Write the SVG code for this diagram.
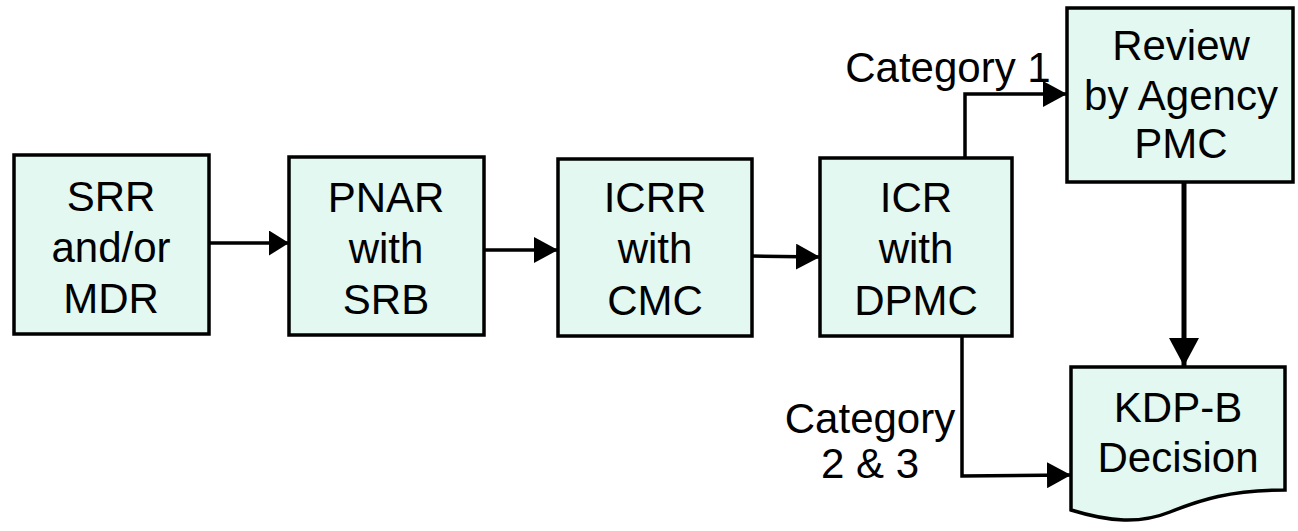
<svg xmlns="http://www.w3.org/2000/svg" width="1298" height="531" viewBox="0 0 1298 531">
<style>
.box{fill:#E2F8F1;stroke:#000;stroke-width:3.5}
.t{font-family:"Liberation Sans",Arial,sans-serif;font-size:42px;fill:#000;text-anchor:middle}
.c{fill:none;stroke:#000;stroke-width:3.5}
</style>
<defs>
<marker id="ah" markerUnits="userSpaceOnUse" markerWidth="24" markerHeight="26" viewBox="0 0 24 26" refX="24" refY="13" orient="auto">
<path d="M0,0 L24,13 L0,26 Z" fill="#000"/>
</marker>
<marker id="ahs" markerUnits="userSpaceOnUse" markerWidth="20" markerHeight="25" viewBox="0 0 20 25" refX="20" refY="12.5" orient="auto">
<path d="M0,0 L20,12.5 L0,25 Z" fill="#000"/>
</marker>
<marker id="ahb" markerUnits="userSpaceOnUse" markerWidth="28" markerHeight="30" viewBox="0 0 28 30" refX="28" refY="15" orient="auto">
<path d="M0,0 L28,15 L0,30 Z" fill="#000"/>
</marker>
</defs>
<g id="connectors">
<path class="c" d="M209,243 H289" marker-end="url(#ahs)"/>
<path class="c" d="M484,250 H558" marker-end="url(#ah)"/>
<path class="c" d="M752,256 L820,257" marker-end="url(#ah)"/>
<path class="c" d="M965,157 V94 H1067" marker-end="url(#ah)"/>
<path class="c" d="M962,336 V476 L1071,475" marker-end="url(#ah)"/>
<path class="c" style="stroke-width:5" d="M1184,182 V366" marker-end="url(#ahb)"/>
<text class="t" x="948" y="82">Category 1</text>
<text class="t" x="870" y="433">Category</text>
<text class="t" x="870" y="478">2 &amp; 3</text>
</g>
<g id="srr">
<rect class="box" x="14" y="155" width="195" height="179"/>
<text class="t" x="111" y="211">SRR</text>
<text class="t" x="111" y="262">and/or</text>
<text class="t" x="111" y="313">MDR</text>
</g>
<g id="pnar">
<rect class="box" x="289" y="157" width="195" height="178"/>
<text class="t" x="386" y="212">PNAR</text>
<text class="t" x="386" y="263">with</text>
<text class="t" x="386" y="314">SRB</text>
</g>
<g id="icrr">
<rect class="box" x="558" y="159" width="194" height="177"/>
<text class="t" x="655" y="212">ICRR</text>
<text class="t" x="655" y="263">with</text>
<text class="t" x="655" y="315">CMC</text>
</g>
<g id="icr">
<rect class="box" x="820" y="158" width="192" height="178"/>
<text class="t" x="916" y="212">ICR</text>
<text class="t" x="916" y="263">with</text>
<text class="t" x="916" y="315">DPMC</text>
</g>
<g id="review">
<rect class="box" x="1067" y="8" width="226" height="174"/>
<text class="t" x="1181" y="60">Review</text>
<text class="t" x="1181" y="110">by Agency</text>
<text class="t" x="1181" y="158">PMC</text>
</g>
<g id="kdp">
<path class="box" d="M1071,367 H1285 V490 C1230,490 1200,500 1170,512 C1140,524 1110,522 1071,510 Z"/>
<text class="t" x="1178" y="422">KDP-B</text>
<text class="t" x="1178" y="472">Decision</text>
</g>
</svg>
